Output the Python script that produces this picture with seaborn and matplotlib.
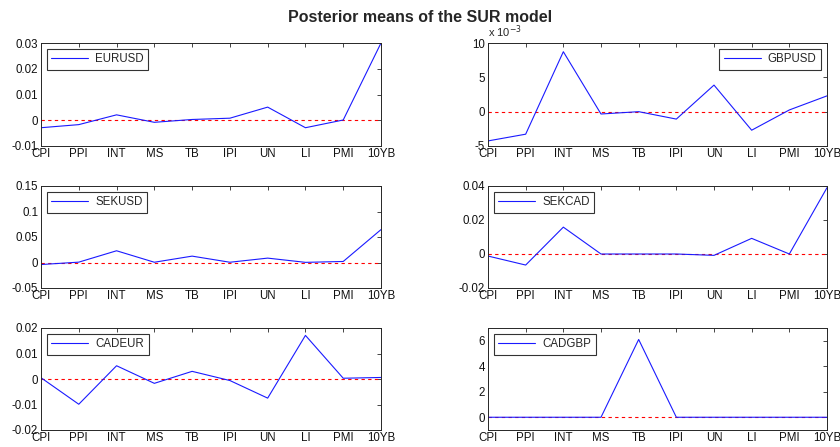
import matplotlib
matplotlib.use("Agg")
import matplotlib.pyplot as plt
import seaborn as sns
import pandas as pd

sns.set_theme(style="white")
plt.rcParams["font.family"] = ["Liberation Sans", "DejaVu Sans"]
plt.rcParams["xtick.direction"] = "in"
plt.rcParams["ytick.direction"] = "in"

variables = ["CPI", "PPI", "INT", "MS", "TB", "IPI", "UN", "LI", "PMI", "10YB"]

eurusd = [-0.0029, -0.0017, 0.0021, -0.0008, 0.0003, 0.0008, 0.0051, -0.0029, 0.0001, 0.0300]
gbpusd = [-4.26e-3, -3.28e-3, 8.73e-3, -0.34e-3, 0.0, -1.08e-3, 3.87e-3, -2.70e-3, 0.25e-3, 2.30e-3]
sekusd = [-0.004, 0.0007, 0.023, 0.0005, 0.0125, 0.0005, 0.0086, 0.0003, 0.002, 0.0645]
sekcad = [-0.0012, -0.0065, 0.0158, 0.0, 0.0, 0.0, -0.0008, 0.0092, 0.0, 0.0390]
cadeur = [0.0005, -0.0099, 0.0052, -0.0017, 0.0030, -0.0006, -0.0075, 0.0171, 0.0003, 0.0006]
cadgbp = [0.0, 0.0, 0.0, 0.0, 6.1, 0.0, 0.0, 0.0, 0.0, 0.0]

series = {"EURUSD": eurusd, "GBPUSD": gbpusd, "SEKUSD": sekusd,
          "SEKCAD": sekcad, "CADEUR": cadeur, "CADGBP": cadgbp}

# y ranges and ticks per currency pair
ylims = {"EURUSD": (-0.01, 0.03), "GBPUSD": (-5e-3, 10e-3), "SEKUSD": (-0.05, 0.15),
         "SEKCAD": (-0.02, 0.04), "CADEUR": (-0.02, 0.02), "CADGBP": (-1, 7)}
yticks = {"EURUSD": [-0.01, 0, 0.01, 0.02, 0.03],
          "GBPUSD": [-5e-3, 0, 5e-3, 10e-3],
          "SEKUSD": [-0.05, 0, 0.05, 0.1, 0.15],
          "SEKCAD": [-0.02, 0, 0.02, 0.04],
          "CADEUR": [-0.02, -0.01, 0, 0.01, 0.02],
          "CADGBP": [0, 2, 4, 6]}
yticklabels = {"EURUSD": ["-0.01", "0", "0.01", "0.02", "0.03"],
               "GBPUSD": ["-5", "0", "5", "10"],
               "SEKUSD": ["-0.05", "0", "0.05", "0.1", "0.15"],
               "SEKCAD": ["-0.02", "0", "0.02", "0.04"],
               "CADEUR": ["-0.02", "-0.01", "0", "0.01", "0.02"],
               "CADGBP": ["0", "2", "4", "6"]}
legend_loc = {"GBPUSD": "upper right"}

W, H = 840, 447
fig = plt.figure(figsize=(W / 100, H / 100), dpi=100)
fig.patch.set_facecolor("white")

col_x = [(41, 340), (488, 339)]
row_y = [(43, 146), (186, 288), (328, 430)]
names = ["EURUSD", "GBPUSD", "SEKUSD", "SEKCAD", "CADEUR", "CADGBP"]

for i, name in enumerate(names):
    r, c = divmod(i, 2)
    x0, w = col_x[c]
    top, bot = row_y[r]
    ax = fig.add_axes([x0 / W, 1 - bot / H, w / W, (bot - top) / H])
    df = pd.DataFrame({"pos": range(len(variables)), "value": series[name]})
    sns.lineplot(data=df, x="pos", y="value", ax=ax, color="#1a1aff",
                 linewidth=0.8, label=name)
    ax.axhline(0, color="red", linestyle=(0, (3, 3)), linewidth=0.8, zorder=1)
    ax.set_xlim(0, len(variables) - 1)
    ax.set_ylim(*ylims[name])
    ax.set_xticks(range(len(variables)))
    ax.set_xticklabels(variables)
    ax.set_yticks(yticks[name])
    ax.set_yticklabels(yticklabels[name])
    ax.set_xlabel("")
    ax.set_ylabel("")
    ax.tick_params(axis="both", which="both", labelsize=8.3, length=3, width=0.6,
                   color="#262626", labelcolor="#111111", top=True, right=True,
                   pad=2)
    ax.tick_params(axis="x", pad=1.5)
    for sp in ax.spines.values():
        sp.set_color("#262626")
        sp.set_linewidth(0.7)
    leg = ax.legend(loc=legend_loc.get(name, "upper left"), fontsize=8.3,
                    frameon=True, fancybox=False, handlelength=3.2,
                    borderpad=0.4, borderaxespad=0.5, handletextpad=0.6)
    leg.get_frame().set_edgecolor("black")
    leg.get_frame().set_linewidth(0.8)
    if name == "GBPUSD":
        ax.text(0.0, 1.03, r"x 10$^{-3}$", transform=ax.transAxes,
                fontsize=8, ha="left", va="bottom")

fig.suptitle("Posterior means of the SUR model", fontsize=11.5, fontweight="bold",
             y=1 - 17 / H, va="center")

fig.savefig("out.png", dpi=100, facecolor="white")
